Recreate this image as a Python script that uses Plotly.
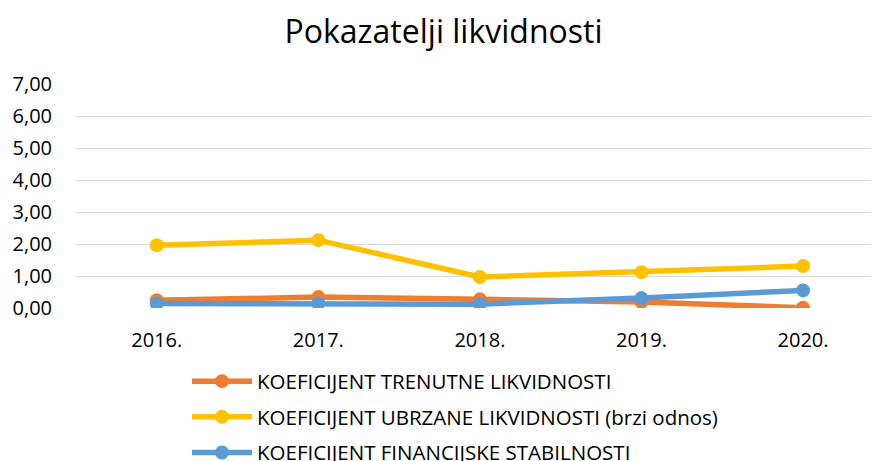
import plotly.graph_objects as go

years = ['2016.', '2017.', '2018.', '2019.', '2020.']
trenutna = [0.24, 0.34, 0.27, 0.19, 0.01]
ubrzana = [1.96, 2.12, 0.97, 1.12, 1.31]
stabilnost = [0.14, 0.14, 0.12, 0.31, 0.55]

SERIES = [
    ('KOEFICIJENT TRENUTNE LIKVIDNOSTI', trenutna, '#ED7D31'),
    ('KOEFICIJENT UBRZANE LIKVIDNOSTI (brzi odnos)', ubrzana, '#FFC000'),
    ('KOEFICIJENT FINANCIJSKE STABILNOSTI', stabilnost, '#5B9BD5'),
]

FONT = 'Open Sans'

fig = go.Figure()
for name, values, color in SERIES:
    fig.add_trace(go.Scatter(
        x=years,
        y=values,
        mode='lines+markers',
        name=name,
        legendgroup=name,
        line=dict(color=color, width=5.5),
        marker=dict(color=color, size=14),
    ))

fig.update_xaxes(range=[-0.5, 4.47], showgrid=False, showline=False,
                 ticks='', ticklabelstandoff=18,
                 tickfont=dict(size=20, color='#000000'))
fig.update_yaxes(range=[0, 7], dtick=1, tickformat='.2f',
                 gridcolor='#D9D9D9', gridwidth=1, zeroline=False,
                 showline=False, ticks='', ticklabelstandoff=23,
                 tickfont=dict(size=20, color='#000000'))
# page body has an 8px margin, so the figure is sized to fit the window
fig.update_layout(
    title=dict(text='Pokazatelji likvidnosti', x=0.5, xanchor='center',
               y=0.947, yanchor='middle',
               font=dict(size=32, color='#000000', family=FONT)),
    font=dict(family=FONT),
    separators=',.',
    width=871, height=453,
    margin=dict(l=68, r=0, t=76, b=153, autoexpand=False),
    plot_bgcolor='white', paper_bgcolor='white',
    legend=dict(xref='container', yref='container', x=0.2055, y=0.22,
                xanchor='left', yanchor='top', orientation='v',
                font=dict(size=20.5, color='#000000'),
                itemwidth=60, tracegroupgap=6, bgcolor='rgba(0,0,0,0)'),
)

fig.write_html('out.html')
